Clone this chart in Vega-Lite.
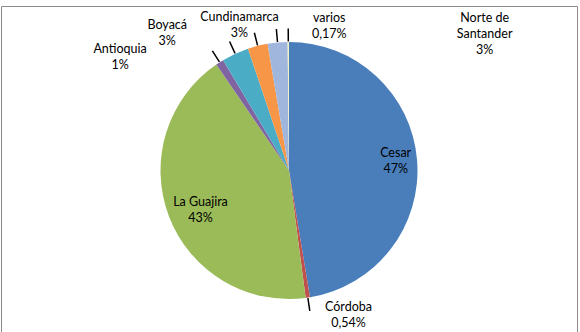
{
  "$schema": "https://vega.github.io/schema/vega-lite/v6.json",
  "width": 576,
  "height": 329,
  "autosize": {"type": "pad"},
  "padding": {"left": 1, "top": 2, "right": 3, "bottom": 1},
  "background": "#ffffff",
  "view": {"stroke": "#8a8a8a", "strokeWidth": 1},
  "config": {
    "view": {"stroke": "#8a8a8a", "strokeWidth": 1},
    "style": {"view": {"stroke": "#8a8a8a", "strokeWidth": 1}},
    "text": {"font": "Lato", "fontSize": 12.5, "fill": "#000000", "lineHeight": 16, "align": "center", "baseline": "middle", "lineBreak": "\n"}
  },
  "data": {
    "values": [
      {"region": "Cesar", "value": 47.39, "label": "Cesar\n47%", "order": 1},
      {"region": "Córdoba", "value": 0.54, "label": "Córdoba\n0,54%", "order": 2},
      {"region": "La Guajira", "value": 42.5, "label": "La Guajira\n43%", "order": 3},
      {"region": "Antioquia", "value": 1.0, "label": "Antioquia\n1%", "order": 4},
      {"region": "Boyacá", "value": 3.4, "label": "Boyacá\n3%", "order": 5},
      {"region": "Cundinamarca", "value": 2.5, "label": "Cundinamarca\n3%", "order": 6},
      {"region": "Norte de Santander", "value": 2.5, "label": "Norte de\nSantander\n3%", "order": 7},
      {"region": "varios", "value": 0.17, "label": "varios\n0,17%", "order": 8}
    ]
  },
  "encoding": {
    "theta": {"field": "value", "type": "quantitative", "stack": true},
    "order": {"field": "order", "type": "quantitative"},
    "detail": {"field": "region", "type": "nominal"}
  },
  "layer": [
    {
      "mark": {"type": "arc", "outerRadius": 128.5},
      "encoding": {
        "color": {
          "field": "region",
          "type": "nominal",
          "legend": null,
          "scale": {
            "domain": ["Cesar", "Córdoba", "La Guajira", "Antioquia", "Boyacá", "Cundinamarca", "Norte de Santander", "varios"],
            "range": ["#4A7EBB", "#C0504D", "#9BBB59", "#8064A2", "#4BACC6", "#F79646", "#A0B6DC", "#F2F2C0"]
          }
        }
      }
    },
    {
      "mark": {"type": "arc", "innerRadius": 129, "outerRadius": 142, "padAngle": 3.1416, "stroke": "#000000", "strokeWidth": 1.5, "fillOpacity": 0},
      "encoding": {
        "strokeOpacity": {
          "condition": {"test": "datum.region !== 'Cesar' && datum.region !== 'La Guajira'", "value": 1},
          "value": 0
        }
      }
    },
    {
      "mark": {"type": "text", "radius": 105, "dx": 2, "dy": -9},
      "encoding": {"text": {"condition": {"test": "datum.region === 'Cesar'", "field": "label"}, "value": ""}}
    },
    {
      "mark": {"type": "text", "radius": 98, "dx": 3, "dy": -4},
      "encoding": {"text": {"condition": {"test": "datum.region === 'La Guajira'", "field": "label"}, "value": ""}}
    },
    {
      "mark": {"type": "text", "radius": 150, "dx": 37.5, "dy": -12},
      "encoding": {"text": {"condition": {"test": "datum.region === 'Córdoba'", "field": "label"}, "value": ""}}
    },
    {
      "mark": {"type": "text", "radius": 150, "dx": -88, "dy": 5},
      "encoding": {"text": {"condition": {"test": "datum.region === 'Antioquia'", "field": "label"}, "value": ""}}
    },
    {
      "mark": {"type": "text", "radius": 150, "dx": -59, "dy": -9},
      "encoding": {"text": {"condition": {"test": "datum.region === 'Boyacá'", "field": "label"}, "value": ""}}
    },
    {
      "mark": {"type": "text", "radius": 150, "dx": -13, "dy": -8},
      "encoding": {"text": {"condition": {"test": "datum.region === 'Cundinamarca'", "field": "label"}, "value": ""}}
    },
    {
      "mark": {"type": "text", "radius": 150, "dx": 209, "dy": -3},
      "encoding": {"text": {"condition": {"test": "datum.region === 'Norte de Santander'", "field": "label"}, "value": ""}}
    },
    {
      "mark": {"type": "text", "radius": 150, "dx": 41, "dy": -3},
      "encoding": {"text": {"condition": {"test": "datum.region === 'varios'", "field": "label"}, "value": ""}}
    }
  ]
}
